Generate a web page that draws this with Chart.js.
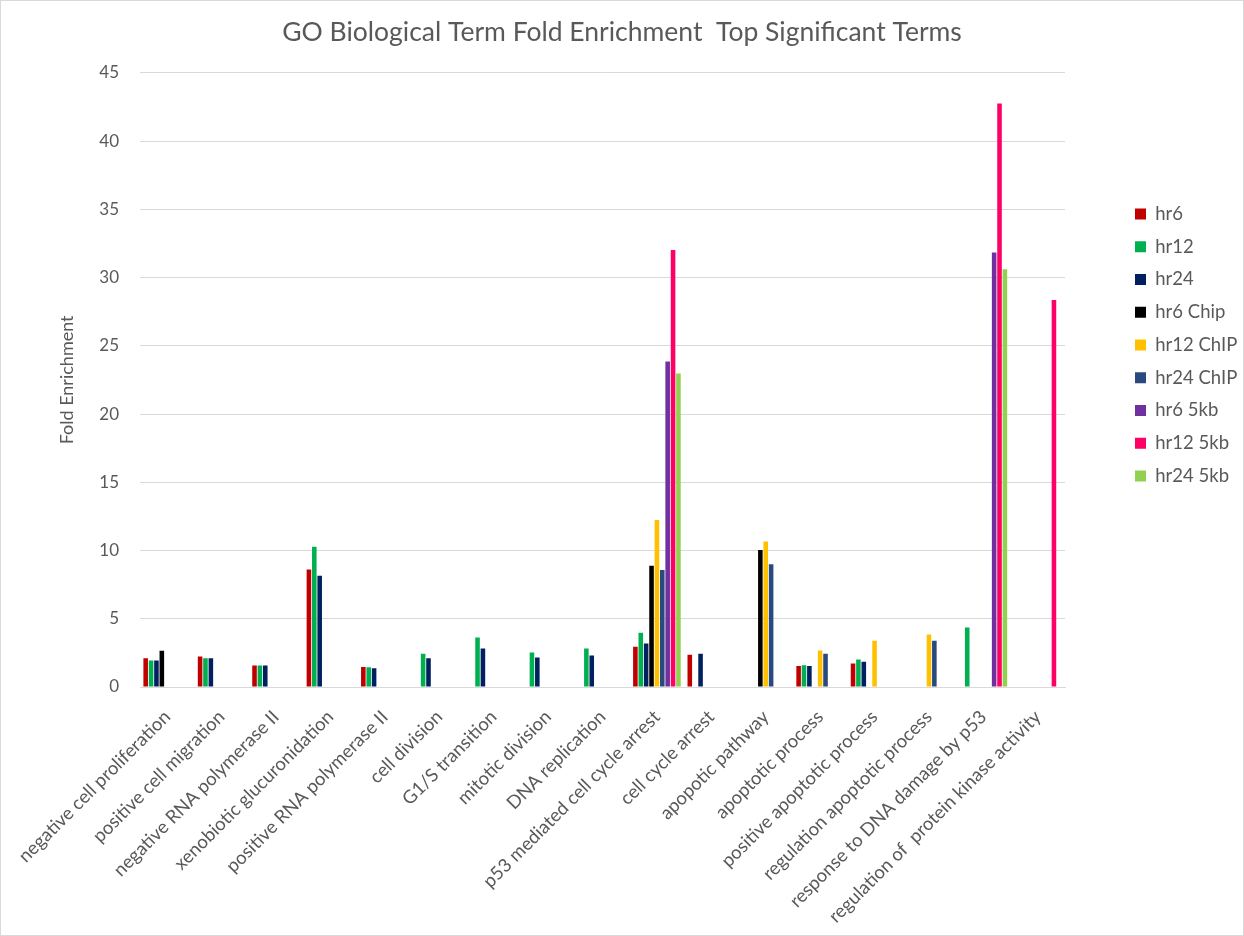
<!DOCTYPE html>
<html>
<head>
<meta charset="utf-8">
<title>GO Biological Term Fold Enrichment</title>
<script src="https://cdn.jsdelivr.net/npm/chart.js@4"></script>
<style>
  html, body { margin: 0; padding: 0; background: #fff; }
  #box {
    width: 1244px;
    height: 936px;
    box-sizing: border-box;
    border: 1px solid #d9d9d9;
  }
</style>
</head>
<body>
<div id="box">
  <canvas id="goChart" width="1242" height="934"></canvas>
</div>
<script>
// GO terms on the x axis
const terms = [
  'negative cell proliferation',
  'positive cell migration',
  'negative RNA polymerase II',
  'xenobiotic glucuronidation',
  'positive RNA polymerase II',
  'cell division',
  'G1/S transition',
  'mitotic division',
  'DNA replication',
  'p53 mediated cell cycle arrest',
  'cell cycle arrest',
  'apopotic pathway',
  'apoptotic process',
  'positive apoptotic process',
  'regulation apoptotic process',
  'response to DNA damage by p53',
  'regulation of  protein kinase activity'
];

// fold enrichment per time point (null = term not significant)
const hr6 = [2.1, 2.24, 1.58, 8.6, 1.46, null, null, null, null, 2.95, 2.36, null, 1.53, 1.73, null, null, null];
const hr12 = [1.95, 2.1, 1.58, 10.27, 1.44, 2.44, 3.63, 2.53, 2.82, 3.97, null, null, 1.6, 2.02, null, 4.36, null];
const hr24 = [1.95, 2.1, 1.58, 8.15, 1.37, 2.1, 2.82, 2.17, 2.31, 3.19, 2.44, null, 1.53, 1.85, null, null, null];
const hr6Chip = [2.66, null, null, null, null, null, null, null, null, 8.88, null, 10.03, null, null, null, null, null];
const hr12Chip = [null, null, null, null, null, null, null, null, null, 12.24, null, 10.66, 2.68, 3.39, 3.85, null, null];
const hr24Chip = [null, null, null, null, null, null, null, null, null, 8.57, null, 9.0, 2.44, null, 3.39, null, null];
const hr6Kb = [null, null, null, null, null, null, null, null, null, 23.85, null, null, null, null, null, 31.83, null];
const hr12Kb = [null, null, null, null, null, null, null, null, null, 32.02, null, null, null, null, null, 42.75, 28.35];
const hr24Kb = [null, null, null, null, null, null, null, null, null, 22.97, null, null, null, null, null, 30.61, null];

const seriesNames = ['hr6', 'hr12', 'hr24', 'hr6 Chip', 'hr12 ChIP', 'hr24 ChIP', 'hr6 5kb', 'hr12 5kb', 'hr24 5kb'];
const seriesValues = [hr6, hr12, hr24, hr6Chip, hr12Chip, hr24Chip, hr6Kb, hr12Kb, hr24Kb];
const seriesColors = ['#c00000', '#00b050', '#002060', '#000000', '#ffc000', '#2a4a7f', '#7030a0', '#ff0066', '#92d050'];

const textColor = '#595959';
const gridColor = '#d9d9d9';
const fontFamily = 'Lato, "Open Sans", sans-serif';

const datasets = [];
for (let i = 0; i < seriesNames.length; i++) {
  datasets.push({
    label: seriesNames[i],
    data: seriesValues[i],
    backgroundColor: seriesColors[i],
    borderWidth: 0,
    categoryPercentage: 0.89,
    barPercentage: 0.85
  });
}

const config = {
  type: 'bar',
  data: {
    labels: terms,
    datasets: datasets
  },
  options: {
    responsive: false,
    animation: false,
    layout: {
      padding: { top: 0, right: 0, bottom: 0, left: 0 }
    },
    plugins: {
      title: {
        display: true,
        text: 'GO Biological Term Fold Enrichment  Top Significant Terms',
        color: textColor,
        font: { family: fontFamily, size: 26.5, weight: 'normal', lineHeight: 1.2 },
        padding: { top: 16, bottom: 24 }
      },
      legend: {
        position: 'right',
        align: 'start',
        maxWidth: 122.25,
        title: {
          display: true,
          text: '',
          font: { size: 12, lineHeight: 1 },
          padding: { top: 177.5, bottom: 0 }
        },
        labels: {
          color: textColor,
          font: { family: fontFamily, size: 18.5 },
          boxWidth: 11,
          boxHeight: 11,
          padding: 14.25
        }
      },
      tooltip: { enabled: false }
    },
    scales: {
      x: {
        grid: { display: false },
        border: { display: true, color: gridColor },
        ticks: {
          color: textColor,
          font: { family: fontFamily, size: 18.5 },
          minRotation: 45,
          maxRotation: 45,
          autoSkip: false,
          padding: 11
        },
        afterFit: function (scale) {
          scale.height = 248;
        }
      },
      y: {
        min: 0,
        max: 45,
        ticks: {
          stepSize: 5,
          color: textColor,
          font: { family: fontFamily, size: 17 },
          padding: 21
        },
        grid: { color: gridColor, drawTicks: false },
        border: { display: false },
        title: {
          display: true,
          text: 'Fold Enrichment',
          color: textColor,
          font: { family: fontFamily, size: 18 },
          padding: { top: 55, bottom: 0 }
        },
        afterFit: function (scale) {
          scale.width = 139;
        }
      },
      // empty axis that keeps a gap between the plot and the legend
      gap: {
        position: 'right',
        display: true,
        grid: { display: false },
        border: { display: false },
        ticks: { display: false },
        afterFit: function (scale) {
          scale.width = 55.75;
        }
      }
    }
  }
};

const chart = new Chart(document.querySelector('#goChart'), config);
</script>
</body>
</html>
